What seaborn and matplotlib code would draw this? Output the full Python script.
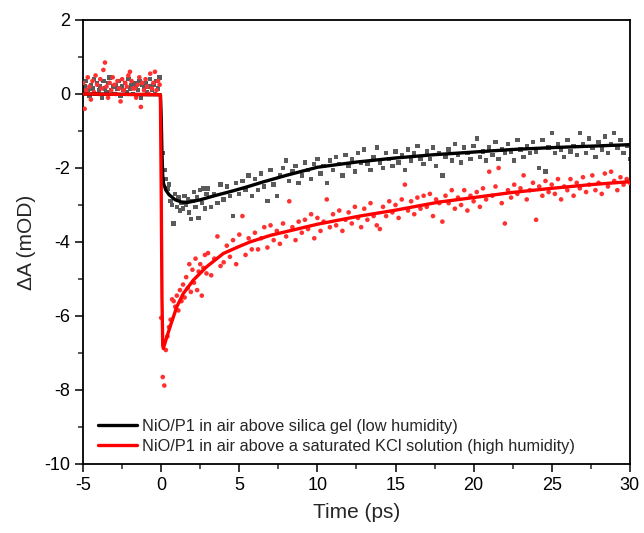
# transient absorption kinetics of NiO/P1 at two humidities
# scatter = measured points, line = fit

import numpy as np
import pandas as pd
import matplotlib
matplotlib.use("Agg")
import matplotlib.pyplot as plt
import seaborn as sns
from matplotlib.ticker import MultipleLocator

# time axis (ps)
t_pre = [-5.0, -4.9, -4.8, -4.7, -4.6, -4.5, -4.4, -4.3, -4.2, -4.1,
         -4.0, -3.9, -3.8, -3.7, -3.6, -3.5, -3.4, -3.3, -3.2, -3.1,
         -3.0, -2.9, -2.8, -2.7, -2.6, -2.5, -2.4, -2.3, -2.2, -2.1,
         -2.0, -1.9, -1.8, -1.7, -1.6, -1.5, -1.4, -1.3, -1.2, -1.1,
         -1.0, -0.9, -0.8, -0.7, -0.6, -0.5, -0.4, -0.3, -0.2, -0.1]
t_early = [0.0, 0.1, 0.2, 0.3, 0.4, 0.5, 0.6, 0.7, 0.8, 0.9,
           1.0, 1.1, 1.2, 1.3, 1.4, 1.5, 1.6, 1.7, 1.8, 1.9,
           2.0, 2.1, 2.2, 2.3, 2.4, 2.5, 2.6, 2.7, 2.8, 2.9]
t_late = [3.0, 3.2, 3.4, 3.6, 3.8, 4.0, 4.2, 4.4, 4.6, 4.8,
          5.0, 5.2, 5.4, 5.6, 5.8, 6.0, 6.2, 6.4, 6.6, 6.8,
          7.0, 7.2, 7.4, 7.6, 7.8, 8.0, 8.2, 8.4, 8.6, 8.8,
          9.0, 9.2, 9.4, 9.6, 9.8, 10.0, 10.2, 10.4, 10.6, 10.8,
          11.0, 11.2, 11.4, 11.6, 11.8, 12.0, 12.2, 12.4, 12.6, 12.8,
          13.0, 13.2, 13.4, 13.6, 13.8, 14.0, 14.2, 14.4, 14.6, 14.8,
          15.0, 15.2, 15.4, 15.6, 15.8, 16.0, 16.2, 16.4, 16.6, 16.8,
          17.0, 17.2, 17.4, 17.6, 17.8, 18.0, 18.2, 18.4, 18.6, 18.8,
          19.0, 19.2, 19.4, 19.6, 19.8, 20.0, 20.2, 20.4, 20.6, 20.8,
          21.0, 21.2, 21.4, 21.6, 21.8, 22.0, 22.2, 22.4, 22.6, 22.8,
          23.0, 23.2, 23.4, 23.6, 23.8, 24.0, 24.2, 24.4, 24.6, 24.8,
          25.0, 25.2, 25.4, 25.6, 25.8, 26.0, 26.2, 26.4, 26.6, 26.8,
          27.0, 27.2, 27.4, 27.6, 27.8, 28.0, 28.2, 28.4, 28.6, 28.8,
          29.0, 29.2, 29.4, 29.6, 29.8, 30.0]

# low humidity data (mOD)
low_pre = [0.05, 0.2, 0.35, 0.1, -0.05, 0.25, 0.15, 0.4, 0.0, 0.3,
           0.1, 0.2, -0.1, 0.35, 0.15, 0.05, 0.3, 0.45, 0.1, 0.2,
           0.0, 0.25, 0.15, 0.35, -0.05, 0.2, 0.1, 0.3, 0.05, 0.4,
           0.15, 0.25, 0.0, 0.3, 0.2, 0.1, 0.35, -0.1, 0.25, 0.15,
           0.3, 0.05, 0.2, 0.4, 0.1, 0.25, 0.0, 0.35, 0.15, 0.45]
low_early = [-0.9, -1.6, -2.05, -2.3, -2.55, -2.45, -2.9, -3.0, -3.5, -2.7,
             -3.05, -2.8, -3.15, -2.95, -3.1, -2.75, -3.0, -2.85, -3.2, -3.38,
             -2.9, -2.65, -3.05, -2.8, -3.35, -2.6, -2.95, -2.55, -3.1, -2.7]
low_late = [-2.55, -3.05, -2.7, -2.95, -2.45, -2.85, -2.5, -2.75, -3.3, -2.4,
            -2.7, -2.35, -2.6, -2.2, -2.75, -2.3, -2.6, -2.15, -2.5, -2.9,
            -2.05, -2.45, -2.75, -2.2, -2.0, -1.8, -2.35, -2.1, -1.95, -2.4,
            -2.2, -1.85, -2.05, -2.3, -1.9, -1.75, -2.15, -1.95, -2.4, -1.8,
            -2.05, -1.7, -1.9, -2.2, -1.65, -1.95, -1.75, -2.1, -1.6, -1.85,
            -1.5, -1.9, -2.05, -1.7, -1.45, -1.85, -2.0, -1.6, -1.75, -1.95,
            -1.55, -1.85, -1.65, -2.05, -1.5, -1.8, -1.6, -1.4, -1.75, -1.9,
            -1.55, -1.75, -1.45, -1.95, -1.6, -2.2, -1.7, -1.5, -1.8, -1.35,
            -1.65, -1.85, -1.45, -1.6, -1.75, -1.4, -1.2, -1.7, -1.55, -1.8,
            -1.45, -1.65, -1.3, -1.75, -1.5, -1.6, -1.35, -1.55, -1.8, -1.25,
            -1.5, -1.7, -1.4, -1.6, -1.3, -1.55, -2.0, -1.25, -2.1, -1.45,
            -1.05, -1.6, -1.35, -1.5, -1.7, -1.25, -1.55, -1.4, -1.65, -1.05,
            -1.35, -1.6, -1.2, -1.45, -1.7, -1.3, -1.5, -1.15, -1.6, -1.35,
            -1.05, -1.45, -1.25, -1.6, -1.4, -1.75]

# high humidity data (mOD)
high_pre = [0.3, -0.4, 0.1, 0.45, 0.2, -0.15, 0.35, 0.05, 0.5, 0.25,
            0.0, 0.4, 0.15, 0.65, 0.85, 0.2, -0.1, 0.3, 0.1, 0.45,
            0.25, 0.0, 0.35, 0.15, -0.2, 0.4, 0.1, 0.3, 0.2, 0.5,
            0.6, 0.35, 0.15, 0.15, -0.1, 0.25, 0.45, -0.35, 0.3, 0.1,
            0.4, 0.2, 0.0, 0.55, 0.15, 0.3, 0.6, 0.1, 0.35, 0.25]
high_early = [-6.05, -7.65, -7.88, -6.92, -6.55, -6.3, -6.1, -5.55, -5.6, -5.75,
              -5.45, -5.85, -5.3, -5.6, -5.15, -5.5, -4.95, -5.25, -4.6, -5.35,
              -4.75, -5.1, -4.45, -5.3, -4.8, -4.6, -5.45, -4.7, -4.35, -4.85]
high_late = [-4.3, -4.9, -4.45, -3.85, -4.65, -4.55, -4.1, -4.4, -3.95, -4.6,
             -3.8, -3.3, -4.35, -3.9, -4.2, -3.75, -4.2, -3.9, -3.6, -4.15,
             -3.55, -3.95, -3.7, -4.05, -3.5, -3.85, -2.9, -3.6, -3.95, -3.45,
             -3.75, -3.4, -3.65, -3.25, -3.9, -3.35, -3.7, -3.45, -2.85, -3.6,
             -3.25, -3.55, -3.15, -3.7, -3.4, -3.2, -3.5, -3.05, -3.35, -3.6,
             -3.1, -3.4, -2.95, -3.3, -3.55, -3.65, -3.05, -3.3, -2.9, -3.2,
             -3.0, -3.35, -2.85, -2.45, -3.15, -2.9, -3.25, -2.8, -3.1, -2.75,
             -3.05, -2.7, -3.3, -2.85, -2.95, -3.45, -2.75, -2.95, -2.6, -3.1,
             -2.8, -3.0, -2.6, -3.15, -2.75, -2.9, -2.65, -3.05, -2.55, -2.85,
             -2.1, -2.75, -2.5, -2.0, -2.95, -3.5, -2.6, -2.8, -2.45, -2.7,
             -2.55, -2.2, -2.85, -2.6, -2.4, -3.4, -2.5, -2.75, -2.35, -2.65,
             -2.45, -2.7, -2.3, -2.85, -2.5, -2.6, -2.3, -2.75, -2.4, -2.55,
             -2.25, -2.65, -2.45, -2.2, -2.6, -2.4, -2.7, -2.15, -2.5, -2.1,
             -2.35, -2.6, -2.25, -2.45, -2.3, -2.4]

# fit curves
fit_low_t = [-5.0, -0.05, 0.0, 0.05, 0.1, 0.15, 0.3, 0.5, 0.9, 1.3, 1.7, 2.5, 3.5,
             4.5, 5.5, 6.5, 8.0, 10.0, 12.5, 15.0, 17.5, 20.0, 22.5, 25.0, 27.5, 30.0]
fit_low_y = [0.0, -0.02, -0.6, -1.6, -2.2, -2.42, -2.6, -2.72, -2.86, -2.92, -2.93,
             -2.86, -2.74, -2.63, -2.51, -2.38, -2.2, -1.98, -1.84, -1.73, -1.64,
             -1.57, -1.5, -1.45, -1.41, -1.37]
fit_high_t = [-5.0, -0.05, 0.0, 0.05, 0.1, 0.14, 0.3, 0.57, 1.0, 1.42, 2.06, 2.91,
              3.98, 5.0, 5.68, 7.0, 10.0, 12.7, 15.0, 17.8, 20.0, 22.5, 25.0, 27.5, 30.0]
fit_high_y = [0.0, -0.02, -2.5, -5.5, -6.8, -6.88, -6.65, -6.29, -5.75, -5.39, -5.03,
              -4.67, -4.31, -4.12, -4.0, -3.82, -3.52, -3.3, -3.14, -2.92, -2.8,
              -2.66, -2.55, -2.45, -2.37]

labels = ["NiO/P1 in air above silica gel (low humidity)",
          "NiO/P1 in air above a saturated KCl solution (high humidity)"]

t_all = t_pre + t_early + t_late
df_low = pd.DataFrame({"t": t_all, "dA": low_pre + low_early + low_late})
df_high = pd.DataFrame({"t": t_all, "dA": high_pre + high_early + high_late})
fit_low = pd.DataFrame({"t": fit_low_t, "dA": fit_low_y})
fit_high = pd.DataFrame({"t": fit_high_t, "dA": fit_high_y})

sns.set_style("ticks")
plt.rcParams["font.family"] = ["Liberation Sans", "DejaVu Sans"]
plt.rcParams["axes.unicode_minus"] = False

fig = plt.figure(figsize=(6.44, 5.33), dpi=100)
ax = fig.add_axes([0.129, 0.1295, 0.849, 0.833])

sns.scatterplot(data=df_low, x="t", y="dA", ax=ax, marker="s", s=10,
                color="#5a5a5a", edgecolor="none", linewidth=0, zorder=2)
sns.scatterplot(data=df_high, x="t", y="dA", ax=ax, marker="o", s=11,
                color="#ff3030", edgecolor="none", linewidth=0, zorder=3)
sns.lineplot(data=fit_low, x="t", y="dA", ax=ax, color="black", lw=2.4,
             sort=False, estimator=None, label=labels[0], zorder=4)
sns.lineplot(data=fit_high, x="t", y="dA", ax=ax, color="red", lw=2.4,
             sort=False, estimator=None, label=labels[1], zorder=5)

ax.set_xlim(-5, 30)
ax.set_ylim(-10, 2)
ax.xaxis.set_major_locator(MultipleLocator(5))
ax.xaxis.set_minor_locator(MultipleLocator(2.5))
ax.yaxis.set_major_locator(MultipleLocator(2))
ax.yaxis.set_minor_locator(MultipleLocator(1))
ax.tick_params(which="major", direction="out", length=6, width=1.1,
               labelsize=13, colors="black")
ax.tick_params(which="minor", direction="out", length=3.5, width=1.1)
for sp in ax.spines.values():
    sp.set_visible(True)
    sp.set_linewidth(1.3)
    sp.set_color("black")

ax.set_xlabel("Time (ps)", fontsize=15, labelpad=6)
ax.set_ylabel("ΔA (mOD)", fontsize=15, labelpad=6)

ax.legend(loc="lower left", bbox_to_anchor=(0.0, -0.01), frameon=False,
          fontsize=11.8, handlelength=2.4, handletextpad=0.3, labelspacing=0.3)

fig.savefig("out.png", dpi=100)
